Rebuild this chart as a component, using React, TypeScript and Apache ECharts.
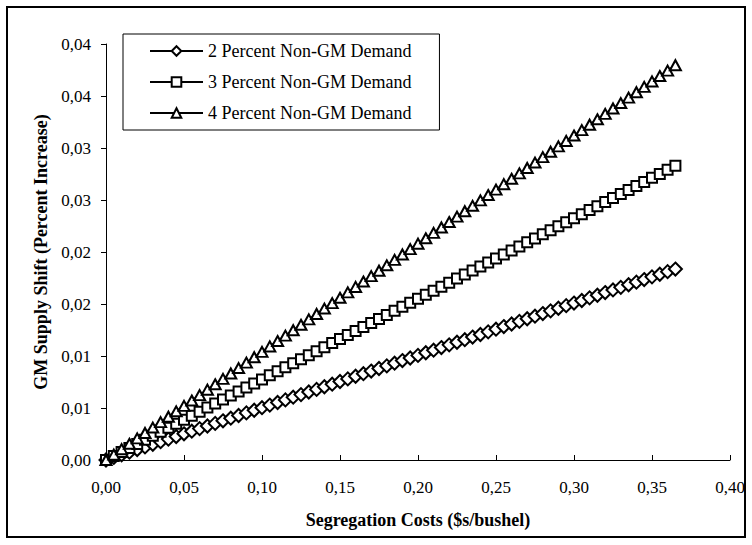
import React, { useEffect, useRef } from "react";
import * as echarts from "echarts";

const xValues = [
  0, 0.005, 0.01, 0.015, 0.02, 0.025, 0.03, 0.035, 0.04, 0.045,
  0.05, 0.055, 0.06, 0.065, 0.07, 0.075, 0.08, 0.085, 0.09, 0.095,
  0.1, 0.105, 0.11, 0.115, 0.12, 0.125, 0.13, 0.135, 0.14, 0.145,
  0.15, 0.155, 0.16, 0.165, 0.17, 0.175, 0.18, 0.185, 0.19, 0.195,
  0.2, 0.205, 0.21, 0.215, 0.22, 0.225, 0.23, 0.235, 0.24, 0.245,
  0.25, 0.255, 0.26, 0.265, 0.27, 0.275, 0.28, 0.285, 0.29, 0.295,
  0.3, 0.305, 0.31, 0.315, 0.32, 0.325, 0.33, 0.335, 0.34, 0.345,
  0.35, 0.355, 0.36, 0.365,
];

const twoPercent = [
  0, 0.00025, 0.0005, 0.00075, 0.00101, 0.00126, 0.00151, 0.00176, 0.00201, 0.00226,
  0.00252, 0.00277, 0.00302, 0.00327, 0.00352, 0.00377, 0.00402, 0.00428, 0.00453, 0.00478,
  0.00503, 0.00528, 0.00553, 0.00578, 0.00604, 0.00629, 0.00654, 0.00679, 0.00704, 0.00729,
  0.00755, 0.0078, 0.00805, 0.0083, 0.00855, 0.0088, 0.00905, 0.00931, 0.00956, 0.00981,
  0.01006, 0.01031, 0.01056, 0.01081, 0.01107, 0.01132, 0.01157, 0.01182, 0.01207, 0.01232,
  0.01258, 0.01283, 0.01308, 0.01333, 0.01358, 0.01383, 0.01408, 0.01434, 0.01459, 0.01484,
  0.01509, 0.01534, 0.01559, 0.01584, 0.0161, 0.01635, 0.0166, 0.01685, 0.0171, 0.01735,
  0.01761, 0.01786, 0.01811, 0.01836,
];

const threePercent = [
  0, 0.00039, 0.00078, 0.00116, 0.00155, 0.00194, 0.00233, 0.00271, 0.0031, 0.00349,
  0.00388, 0.00426, 0.00465, 0.00504, 0.00543, 0.00581, 0.0062, 0.00659, 0.00698, 0.00736,
  0.00775, 0.00814, 0.00853, 0.00891, 0.0093, 0.00969, 0.01008, 0.01046, 0.01085, 0.01124,
  0.01163, 0.01201, 0.0124, 0.01279, 0.01318, 0.01356, 0.01395, 0.01434, 0.01473, 0.01511,
  0.0155, 0.01589, 0.01628, 0.01666, 0.01705, 0.01744, 0.01783, 0.01821, 0.0186, 0.01899,
  0.01938, 0.01976, 0.02015, 0.02054, 0.02093, 0.02131, 0.0217, 0.02209, 0.02248, 0.02286,
  0.02325, 0.02364, 0.02403, 0.02441, 0.0248, 0.02519, 0.02558, 0.02596, 0.02635, 0.02674,
  0.02713, 0.02751, 0.0279, 0.02829,
];

const fourPercent = [
  0, 0.00052, 0.00104, 0.00156, 0.00208, 0.0026, 0.00312, 0.00364, 0.00416, 0.00468,
  0.0052, 0.00572, 0.00624, 0.00676, 0.00728, 0.0078, 0.00832, 0.00884, 0.00936, 0.00988,
  0.0104, 0.01092, 0.01144, 0.01196, 0.01248, 0.013, 0.01352, 0.01404, 0.01456, 0.01508,
  0.0156, 0.01612, 0.01664, 0.01716, 0.01768, 0.0182, 0.01872, 0.01924, 0.01976, 0.02028,
  0.0208, 0.02132, 0.02184, 0.02236, 0.02288, 0.0234, 0.02392, 0.02444, 0.02496, 0.02548,
  0.026, 0.02652, 0.02704, 0.02756, 0.02808, 0.0286, 0.02912, 0.02964, 0.03016, 0.03068,
  0.0312, 0.03172, 0.03224, 0.03276, 0.03328, 0.0338, 0.03432, 0.03484, 0.03536, 0.03588,
  0.0364, 0.03692, 0.03744, 0.03796,
];

const seriesNames = [
  "2 Percent Non-GM Demand",
  "3 Percent Non-GM Demand",
  "4 Percent Non-GM Demand",
];

const xTickLabels = ["0,00", "0,05", "0,10", "0,15", "0,20", "0,25", "0,30", "0,35", "0,40"];
const yTickLabels = ["0,00", "0,01", "0,01", "0,02", "0,02", "0,03", "0,03", "0,04", "0,04"];

const xTitle = "Segregation Costs ($s/bushel)";
const yTitle = "GM Supply Shift (Percent Increase)";

const FONT = "Liberation Serif";

export default function App() {
  const ref = useRef<HTMLDivElement>(null);

  useEffect(() => {
    if (!ref.current) return;
    const chart = echarts.init(ref.current, undefined, { renderer: "svg" });

    const pair = (ys: number[]) => xValues.map((x, i) => [x, ys[i]]);
    const symbols = ["diamond", "rect", "triangle"];
    const sizes: any[] = [[13, 13], [10, 10], [11, 10]];
    const allSeries = [twoPercent, threePercent, fourPercent];

    chart.setOption({
      animation: false,
      backgroundColor: "#ffffff",
      graphic: [
        {
          type: "rect",
          shape: { x: 7, y: 7, width: 738, height: 530 },
          style: { fill: "none", stroke: "#000", lineWidth: 2 },
          silent: true,
        },
      ],
      grid: { left: 106, right: 22, top: 44, bottom: 85, containLabel: false },
      legend: {
        orient: "vertical",
        left: 123,
        top: 34,
        padding: [8, 28, 8, 26],
        itemWidth: 53,
        itemHeight: 12,
        itemGap: 13,
        backgroundColor: "#ffffff",
        borderColor: "#000",
        borderWidth: 1,
        borderRadius: 0,
        data: seriesNames,
        textStyle: { fontFamily: FONT, fontSize: 18, color: "#000" },
      },
      xAxis: {
        type: "value",
        min: 0,
        max: 0.4,
        interval: 0.05,
        name: xTitle,
        nameLocation: "middle",
        nameGap: 51,
        nameTextStyle: { fontFamily: FONT, fontSize: 18, fontWeight: "bold", color: "#000" },
        axisLine: { lineStyle: { color: "#000", width: 1 } },
        axisTick: { inside: true, length: 5, lineStyle: { color: "#000" } },
        axisLabel: {
          fontFamily: FONT,
          fontSize: 17,
          color: "#000",
          margin: 19,
          formatter: (v: number) => xTickLabels[Math.round(v / 0.05)] ?? "",
        },
        splitLine: { show: false },
      },
      yAxis: {
        type: "value",
        min: 0,
        max: 0.04,
        interval: 0.005,
        name: yTitle,
        nameLocation: "middle",
        nameGap: 54,
        nameTextStyle: { fontFamily: FONT, fontSize: 18, fontWeight: "bold", color: "#000" },
        axisLine: { show: true, lineStyle: { color: "#000", width: 1 } },
        axisTick: { show: true, inside: false, length: 5, lineStyle: { color: "#000" } },
        axisLabel: {
          fontFamily: FONT,
          fontSize: 17,
          color: "#000",
          margin: 15,
          formatter: (v: number) => yTickLabels[Math.round(v / 0.005)] ?? "",
        },
        splitLine: { show: false },
      },
      series: allSeries.map((ys, k) => ({
        name: seriesNames[k],
        type: "line",
        data: pair(ys),
        symbol: symbols[k],
        symbolSize: sizes[k],
        showAllSymbol: true,
        lineStyle: { color: "#000", width: 2 },
        itemStyle: { color: "#fff", borderColor: "#000", borderWidth: 2 },
        z: 2 + k,
      })),
    });

    return () => chart.dispose();
  }, []);

  return (
    <div
      ref={ref}
      style={{ position: "fixed", left: 0, top: 0, width: 752, height: 545 }}
    />
  );
}
